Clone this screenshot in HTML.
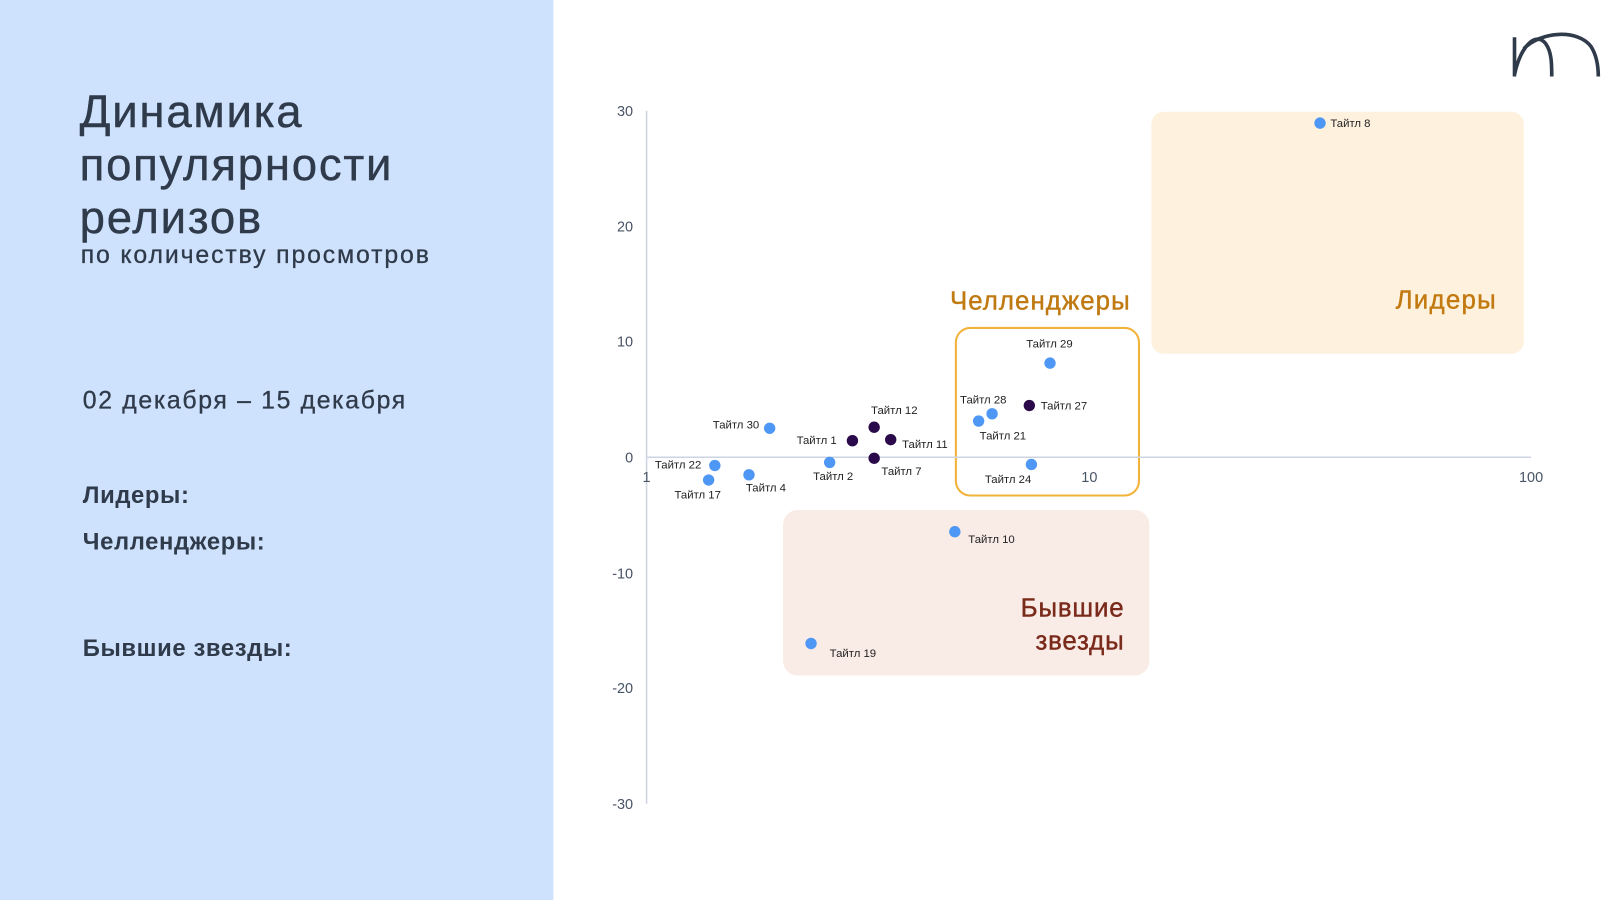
<!DOCTYPE html>
<html><head><meta charset="utf-8"><style>
html,body{margin:0;padding:0;width:1622px;height:900px;overflow:hidden;background:#fff}
#w{position:absolute;left:0;top:0;width:1568px;height:870px;transform:scale(1.0345,1.0345);transform-origin:0 0;font-family:"Liberation Sans","Noto Sans CJK SC",sans-serif;color:#2f3a4a}
.t{position:absolute;white-space:nowrap}
</style></head><body><div id="w">
<div style="position:absolute;left:0;top:0;width:535px;height:870px;background:#cfe2fd"></div>
<div class="t" style="left:77px;top:83px;font-size:44px;line-height:51px;letter-spacing:1.7px;color:#2f3a4a;-webkit-text-stroke:0.4px #2f3a4a">Динамика<br>популярности<br>релизов</div>
<div class="t" style="left:78px;top:233px;font-size:24px;letter-spacing:1.8px;-webkit-text-stroke:0.3px #2f3a4a">по количеству просмотров</div>
<div class="t" style="left:80px;top:374px;font-size:24px;letter-spacing:1.6px;-webkit-text-stroke:0.3px #2f3a4a">02 декабря – 15 декабря</div>
<div class="t" style="left:80px;top:465px;font-size:23px;font-weight:bold;letter-spacing:0.6px">Лидеры:</div>
<div class="t" style="left:80px;top:510px;font-size:23px;font-weight:bold;letter-spacing:0.6px">Челленджеры:</div>
<div class="t" style="left:80px;top:613px;font-size:23px;font-weight:bold;letter-spacing:0.6px">Бывшие звезды:</div>
<svg style="position:absolute;left:0;top:0" width="1568" height="870" font-family="Liberation Sans, sans-serif">
<path d="M1464 74 V36 M1464 72 C1470 45 1484 30 1494 42 C1500 50 1500 62 1500 74 M1473 47 C1490 30 1525 28 1538 45 C1543 53 1545 62 1545 74" fill="none" stroke="#2f3a4a" stroke-width="3.5"/>
<rect x="1113" y="108" width="360" height="234" rx="12" fill="#fef1de"/>
<rect x="757" y="493" width="354" height="160" rx="14" fill="#f9ebe6"/>
<rect x="924" y="317" width="177" height="162" rx="14" fill="none" stroke="#f2b33a" stroke-width="2"/>
<line x1="625" y1="107" x2="625" y2="777" stroke="#cdd5e0" stroke-width="1.5"/>
<line x1="625" y1="442" x2="1480" y2="442" stroke="#cdd5e0" stroke-width="1.5"/>
<g font-size="14" fill="#4a5566" text-anchor="end">
<text x="612" y="112">30</text><text x="612" y="224">20</text><text x="612" y="335">10</text><text x="612" y="447">0</text>
<text x="612" y="559">-10</text><text x="612" y="670">-20</text><text x="612" y="782">-30</text></g>
<g font-size="14" fill="#4a5566" text-anchor="middle"><text x="625" y="466">1</text><text x="1053" y="466">10</text><text x="1480" y="466">100</text></g>
<g stroke-width="0.4">
<text x="1447" y="298" font-size="25" letter-spacing="1.2" fill="#c27a10" stroke="#c27a10" text-anchor="end">Лидеры</text>
<text x="1093" y="299" font-size="25" letter-spacing="1" fill="#c07a12" stroke="#c07a12" text-anchor="end">Челленджеры</text>
<text x="1087" y="596" font-size="25" letter-spacing="0.8" fill="#7a2a1a" stroke="#7a2a1a" text-anchor="end">Бывшие</text>
<text x="1087" y="628" font-size="25" letter-spacing="0.8" fill="#7a2a1a" stroke="#7a2a1a" text-anchor="end">звезды</text></g>
<g fill="#4f97f5">
<circle cx="1276" cy="119" r="5.5"/><circle cx="1015" cy="351" r="5.5"/><circle cx="959" cy="400" r="5.5"/><circle cx="946" cy="407" r="5.5"/><circle cx="997" cy="449" r="5.5"/><circle cx="923" cy="514" r="5.5"/><circle cx="784" cy="622" r="5.5"/><circle cx="744" cy="414" r="5.5"/><circle cx="802" cy="447" r="5.5"/><circle cx="691" cy="450" r="5.5"/><circle cx="685" cy="464" r="5.5"/><circle cx="724" cy="459" r="5.5"/></g>
<g fill="#2a0a4a"><circle cx="995" cy="392" r="5.5"/><circle cx="824" cy="426" r="5.5"/><circle cx="845" cy="413" r="5.5"/><circle cx="861" cy="425" r="5.5"/><circle cx="845" cy="443" r="5.5"/></g>
<g font-size="11" fill="#222">
<text x="1286" y="123">Тайтл 8</text><text x="992" y="336">Тайтл 29</text><text x="928" y="390">Тайтл 28</text><text x="1006" y="396">Тайтл 27</text><text x="947" y="425">Тайтл 21</text><text x="952" y="467">Тайтл 24</text><text x="936" y="525">Тайтл 10</text><text x="802" y="635">Тайтл 19</text>
<text x="689" y="414">Тайтл 30</text><text x="770" y="429">Тайтл 1</text><text x="842" y="400">Тайтл 12</text><text x="872" y="433">Тайтл 11</text><text x="852" y="459">Тайтл 7</text><text x="786" y="464">Тайтл 2</text><text x="633" y="453">Тайтл 22</text><text x="652" y="482">Тайтл 17</text><text x="721" y="475">Тайтл 4</text></g>
</svg>
</div></body></html>
